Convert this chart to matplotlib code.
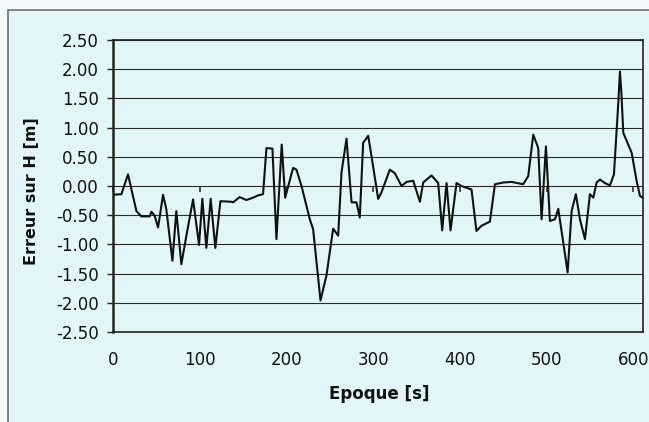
import matplotlib
matplotlib.use("Agg")
import matplotlib.pyplot as plt
from matplotlib.patches import Rectangle
from matplotlib.ticker import FormatStrFormatter, MultipleLocator

plt.rcParams['font.family'] = ['DejaVu Sans']
plt.rcParams['axes.unicode_minus'] = False

# Data
epoque = [0, 9.7, 17.3, 27, 32.7, 42.3, 44.3, 48, 52, 57.7, 61.5, 68.5, 73, 78.8,
          84.6, 92.3, 99.2, 103, 107.6, 112.6, 118, 123.8, 136.5, 138.4, 146,
          153.8, 161.5, 167.3, 173, 176.9, 183.8, 188.4, 194.5, 198.5, 207.6,
          211.5, 217.3, 226.9, 230.7, 239.2, 246.1, 253.8, 259.6, 263.4, 269.2,
          275, 280.7, 284.5, 288.4, 294.2, 298, 305.7, 309.5, 319.1, 324.9,
          332.6, 338.4, 346.1, 353.8, 357.6, 367.2, 374.9, 379.5, 384.5, 389.1,
          396, 401.8, 413.3, 419, 424.9, 434.5, 440.3, 449.9, 459.5, 472.9,
          478.7, 484.5, 490.2, 494.1, 499.1, 503.7, 509.5, 513.3, 519.1, 524.1,
          528.7, 533.6, 538.3, 544.1, 549.8, 553.7, 557.5, 561.4, 567.1, 572.9,
          577.5, 582.5, 584.4, 586, 588.3, 597.9, 603.6, 607.5, 610.6]
erreur_h = [-0.15, -0.14, 0.20, -0.43, -0.52, -0.52, -0.44, -0.51, -0.71, -0.15,
            -0.40, -1.28, -0.43, -1.34, -0.85, -0.23, -1.01, -0.22, -1.06, -0.22,
            -1.06, -0.26, -0.27, -0.28, -0.19, -0.24, -0.20, -0.16, -0.14, 0.65,
            0.64, -0.91, 0.71, -0.20, 0.31, 0.28, 0.00, -0.57, -0.74, -1.96,
            -1.53, -0.73, -0.85, 0.23, 0.81, -0.28, -0.28, -0.54, 0.74, 0.86,
            0.51, -0.22, -0.11, 0.28, 0.22, 0.00, 0.07, 0.09, -0.27, 0.06, 0.18,
            0.05, -0.76, 0.05, -0.76, 0.05, 0.00, -0.06, -0.77, -0.68, -0.61,
            0.03, 0.06, 0.07, 0.03, 0.17, 0.88, 0.65, -0.57, 0.68, -0.60, -0.57,
            -0.39, -0.97, -1.48, -0.43, -0.14, -0.57, -0.91, -0.14, -0.20, 0.06,
            0.11, 0.05, 0.01, 0.20, 1.42, 1.96, 1.62, 0.91, 0.57, 0.09, -0.17,
            -0.20]

x_ticks = [0, 100, 200, 300, 400, 500, 600]
x_max = 611
y_min, y_max, y_step = -2.5, 2.5, 0.5

W, H = 649, 422
bg = '#e2f6f9'
fig = plt.figure(figsize=(W / 100, H / 100), dpi=100)
fig.patch.set_facecolor('#f3fbfc')

# chart-area frame
fig.patches.append(Rectangle((8 / W, -0.05), 1.1, 1 - 10 / H + 0.05,
                             transform=fig.transFigure, facecolor=bg,
                             edgecolor='#6e6e6e', linewidth=1.2, zorder=-10))

ax = fig.add_axes([113 / W, 1 - 332 / H, (643 - 113) / W, (332 - 40) / H])
ax.set_zorder(5)
ax.set_facecolor(bg)
ax.plot(epoque, erreur_h, color='#111111', linewidth=1.5, zorder=3)

ax.set_xlim(0, x_max)
ax.set_ylim(y_min, y_max)
ax.yaxis.set_major_locator(MultipleLocator(y_step))
ax.yaxis.set_major_formatter(FormatStrFormatter('%.2f'))
ax.set_xticks(x_ticks)
ax.grid(axis='y', color='#2a2a2a', linewidth=0.8, zorder=1)

for s in ['top', 'right', 'bottom']:
    ax.spines[s].set_color('#222222')
    ax.spines[s].set_linewidth(1.2)
ax.spines['left'].set_color('#222222')
ax.spines['left'].set_linewidth(1.8)

ax.tick_params(axis='y', length=4.5, width=1, color='#222222', pad=5.5,
               labelsize=12, labelcolor='#111111')
ax.tick_params(axis='x', length=0, pad=14, labelsize=12, labelcolor='#111111')

# tick marks on the zero line (axis crossing), pointing down
sec = ax.secondary_xaxis(0.5)
sec.set_xticks(x_ticks)
sec.xaxis.set_ticks_position('bottom')
sec.tick_params(axis='x', which='both', direction='out', length=4, width=1.1,
                color='#222222', bottom=True, top=False,
                labelbottom=False, labeltop=False)
sec.spines['bottom'].set_visible(False)
sec.spines['top'].set_visible(False)

fig.text(31.5 / W, 1 - 191 / H, 'Erreur sur H [m]', rotation=90, ha='center',
         va='center', fontsize=11.5, fontweight='bold', color='#111111')
fig.text(379 / W, 1 - 394 / H, 'Epoque [s]', ha='center', va='center',
         fontsize=12, fontweight='bold', color='#111111')

fig.savefig('out.png', dpi=100, facecolor=fig.get_facecolor())
